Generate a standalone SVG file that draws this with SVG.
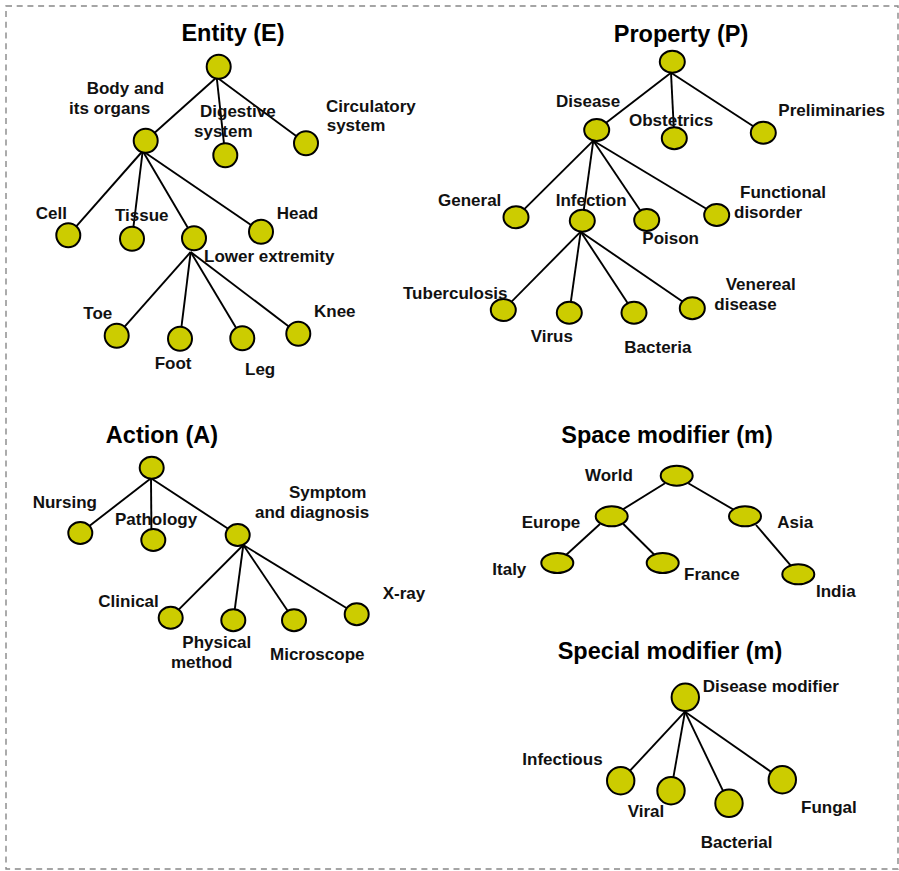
<svg xmlns="http://www.w3.org/2000/svg" width="899" height="871" viewBox="0 0 899 871">
<style>
.t{font-family:"Liberation Sans",Arial,sans-serif;font-weight:bold;font-size:23.5px;fill:#000}
.l{font-family:"Liberation Sans",Arial,sans-serif;font-weight:bold;font-size:17px;fill:#111}
.n{fill:#CCCC00;stroke:#000;stroke-width:2}
#connectors line{stroke:#000;stroke-width:1.9}
</style>
<rect x="6" y="6" width="892" height="863" fill="#fff" stroke="#888" stroke-width="1.4" stroke-dasharray="6,4.7"/>
<text class="t" x="233" y="41" text-anchor="middle">Entity (E)</text>
<text class="t" x="681" y="41.5" text-anchor="middle">Property (P)</text>
<text class="t" x="162" y="442.5" text-anchor="middle">Action (A)</text>
<text class="t" x="667" y="442.5" text-anchor="middle">Space modifier (m)</text>
<text class="t" x="670" y="658.5" text-anchor="middle">Special modifier (m)</text>
<g id="connectors">
<line x1="216.7" y1="77.3" x2="145.7" y2="140.7"/>
<line x1="216.7" y1="77.3" x2="225.3" y2="155.3"/>
<line x1="216.7" y1="77.3" x2="306" y2="143.3"/>
<line x1="142.7" y1="151" x2="68.3" y2="235.3"/>
<line x1="142.7" y1="151" x2="132" y2="238.7"/>
<line x1="142.7" y1="151" x2="194" y2="238.3"/>
<line x1="142.7" y1="151" x2="261" y2="231.7"/>
<line x1="190.7" y1="252" x2="116.7" y2="335.7"/>
<line x1="190.7" y1="252" x2="180" y2="338.7"/>
<line x1="190.7" y1="252" x2="242.3" y2="338.3"/>
<line x1="190.7" y1="252" x2="298.3" y2="333.7"/>
<line x1="671" y1="72.7" x2="596.7" y2="130"/>
<line x1="671" y1="72.7" x2="674.3" y2="138.3"/>
<line x1="671" y1="72.7" x2="763.3" y2="132.7"/>
<line x1="593.3" y1="140.7" x2="516" y2="217.3"/>
<line x1="593.3" y1="140.7" x2="582.3" y2="220.7"/>
<line x1="593.3" y1="140.7" x2="646.7" y2="220"/>
<line x1="593.3" y1="140.7" x2="716.7" y2="215"/>
<line x1="580.7" y1="231.7" x2="503.3" y2="310"/>
<line x1="580.7" y1="231.7" x2="569.3" y2="312.7"/>
<line x1="580.7" y1="231.7" x2="634" y2="312.7"/>
<line x1="580.7" y1="231.7" x2="692.3" y2="308.3"/>
<line x1="151" y1="478.3" x2="80.3" y2="533"/>
<line x1="151" y1="478.3" x2="151.5" y2="540"/>
<line x1="151" y1="478.3" x2="237.7" y2="535"/>
<line x1="243.3" y1="545" x2="170.7" y2="617.7"/>
<line x1="243.3" y1="545" x2="233.3" y2="620.3"/>
<line x1="243.3" y1="545" x2="294" y2="620.3"/>
<line x1="243.3" y1="545" x2="356.7" y2="614.3"/>
<line x1="665" y1="483.3" x2="611.7" y2="516.3"/>
<line x1="688.3" y1="483.3" x2="745" y2="516.3"/>
<line x1="600" y1="524" x2="557.3" y2="563"/>
<line x1="623.3" y1="524" x2="662.7" y2="563"/>
<line x1="756" y1="525" x2="798.3" y2="574.3"/>
<line x1="685" y1="711.7" x2="620.7" y2="780.7"/>
<line x1="685" y1="711.7" x2="671" y2="790.7"/>
<line x1="685" y1="711.7" x2="729" y2="803.3"/>
<line x1="685" y1="711.7" x2="782.3" y2="779.7"/>
</g>
<g id="e-root"><circle class="n" cx="218.7" cy="66.7" r="12"/></g>
<g id="e-body"><circle class="n" cx="145.7" cy="140.7" r="12"/><text class="l" x="86.7" y="94.3">Body and</text><text class="l" x="69" y="113.5">its organs</text></g>
<g id="e-digestive"><circle class="n" cx="225.3" cy="155.3" r="12"/><text class="l" x="200" y="117.3">Digestive</text><text class="l" x="194" y="136.7">system</text></g>
<g id="e-circulatory"><circle class="n" cx="306" cy="143.3" r="12"/><text class="l" x="326" y="111.7">Circulatory</text><text class="l" x="326.7" y="131">system</text></g>
<g id="e-cell"><circle class="n" cx="68.3" cy="235.3" r="12"/><text class="l" x="35.7" y="219">Cell</text></g>
<g id="e-tissue"><circle class="n" cx="132" cy="238.7" r="12"/><text class="l" x="115" y="220.7">Tissue</text></g>
<g id="e-lower"><circle class="n" cx="194" cy="238.3" r="12"/><text class="l" x="204" y="262">Lower extremity</text></g>
<g id="e-head"><circle class="n" cx="261" cy="231.7" r="12"/><text class="l" x="276.7" y="219">Head</text></g>
<g id="e-toe"><circle class="n" cx="116.7" cy="335.7" r="12"/><text class="l" x="83.3" y="319">Toe</text></g>
<g id="e-foot"><circle class="n" cx="180" cy="338.7" r="12"/><text class="l" x="154.7" y="369">Foot</text></g>
<g id="e-leg"><circle class="n" cx="242.3" cy="338.3" r="12"/><text class="l" x="245" y="375">Leg</text></g>
<g id="e-knee"><circle class="n" cx="298.3" cy="333.7" r="12"/><text class="l" x="314" y="316.7">Knee</text></g>
<g id="p-root"><ellipse class="n" cx="672.3" cy="61.7" rx="12.5" ry="11"/></g>
<g id="p-disease"><ellipse class="n" cx="596.7" cy="130" rx="12.5" ry="11"/><text class="l" x="556" y="106.7">Disease</text></g>
<g id="p-obstetrics"><ellipse class="n" cx="674.3" cy="138.3" rx="12.5" ry="11"/><text class="l" x="629" y="126">Obstetrics</text></g>
<g id="p-preliminaries"><ellipse class="n" cx="763.3" cy="132.7" rx="12.5" ry="11"/><text class="l" x="778.3" y="115.7">Preliminaries</text></g>
<g id="p-general"><ellipse class="n" cx="516" cy="217.3" rx="12.5" ry="11"/><text class="l" x="438" y="205.7">General</text></g>
<g id="p-infection"><ellipse class="n" cx="582.3" cy="220.7" rx="12.5" ry="11"/><text class="l" x="555.7" y="205.7">Infection</text></g>
<g id="p-poison"><ellipse class="n" cx="646.7" cy="220" rx="12.5" ry="11"/><text class="l" x="642.3" y="244.3">Poison</text></g>
<g id="p-functional"><ellipse class="n" cx="716.7" cy="215" rx="12.5" ry="11"/><text class="l" x="740" y="198.3">Functional</text><text class="l" x="734" y="217.7">disorder</text></g>
<g id="p-tuberculosis"><ellipse class="n" cx="503.3" cy="310" rx="12.5" ry="11"/><text class="l" x="403" y="299">Tuberculosis</text></g>
<g id="p-virus"><ellipse class="n" cx="569.3" cy="312.7" rx="12.5" ry="11"/><text class="l" x="530.7" y="341.7">Virus</text></g>
<g id="p-bacteria"><ellipse class="n" cx="634" cy="312.7" rx="12.5" ry="11"/><text class="l" x="624.3" y="353.3">Bacteria</text></g>
<g id="p-venereal"><ellipse class="n" cx="692.3" cy="308.3" rx="12.5" ry="11"/><text class="l" x="725.7" y="290">Venereal</text><text class="l" x="714.3" y="310">disease</text></g>
<g id="a-root"><ellipse class="n" cx="151.7" cy="467.7" rx="12" ry="11"/></g>
<g id="a-nursing"><ellipse class="n" cx="80.3" cy="533" rx="12" ry="11"/><text class="l" x="32.7" y="507.7">Nursing</text></g>
<g id="a-pathology"><ellipse class="n" cx="153.3" cy="540" rx="12" ry="11"/><text class="l" x="115" y="525">Pathology</text></g>
<g id="a-symptom"><ellipse class="n" cx="237.7" cy="535" rx="12" ry="11"/><text class="l" x="289" y="497.7">Symptom</text><text class="l" x="255" y="517.7">and diagnosis</text></g>
<g id="a-clinical"><ellipse class="n" cx="170.7" cy="617.7" rx="12" ry="11"/><text class="l" x="98.3" y="606.7">Clinical</text></g>
<g id="a-physical"><ellipse class="n" cx="233.3" cy="620.3" rx="12" ry="11"/><text class="l" x="182.3" y="648.3">Physical</text><text class="l" x="171" y="668.3">method</text></g>
<g id="a-microscope"><ellipse class="n" cx="294" cy="620.3" rx="12" ry="11"/><text class="l" x="270" y="660">Microscope</text></g>
<g id="a-xray"><ellipse class="n" cx="356.7" cy="614.3" rx="12" ry="11"/><text class="l" x="382.7" y="599.3">X-ray</text></g>
<g id="s-world"><ellipse class="n" cx="676.7" cy="475.7" rx="16" ry="10"/><text class="l" x="585" y="481">World</text></g>
<g id="s-europe"><ellipse class="n" cx="611.7" cy="516.3" rx="16" ry="10"/><text class="l" x="521.7" y="527.7">Europe</text></g>
<g id="s-asia"><ellipse class="n" cx="745" cy="516.3" rx="16" ry="10"/><text class="l" x="777.3" y="527.7">Asia</text></g>
<g id="s-italy"><ellipse class="n" cx="557.3" cy="563" rx="16" ry="10"/><text class="l" x="492.3" y="575">Italy</text></g>
<g id="s-france"><ellipse class="n" cx="662.7" cy="563" rx="16" ry="10"/><text class="l" x="684" y="580">France</text></g>
<g id="s-india"><ellipse class="n" cx="798.3" cy="574.3" rx="16" ry="10"/><text class="l" x="816" y="596.7">India</text></g>
<g id="m-disease"><circle class="n" cx="685.3" cy="697.3" r="13.7"/><text class="l" x="702.7" y="691.7">Disease modifier</text></g>
<g id="m-infectious"><circle class="n" cx="620.7" cy="780.7" r="13.7"/><text class="l" x="522.3" y="765">Infectious</text></g>
<g id="m-viral"><circle class="n" cx="671" cy="790.7" r="13.7"/><text class="l" x="627.7" y="816.7">Viral</text></g>
<g id="m-bacterial"><circle class="n" cx="729" cy="803.3" r="13.7"/><text class="l" x="700.7" y="847.7">Bacterial</text></g>
<g id="m-fungal"><circle class="n" cx="782.3" cy="779.7" r="13.7"/><text class="l" x="801" y="812.7">Fungal</text></g>
</svg>
